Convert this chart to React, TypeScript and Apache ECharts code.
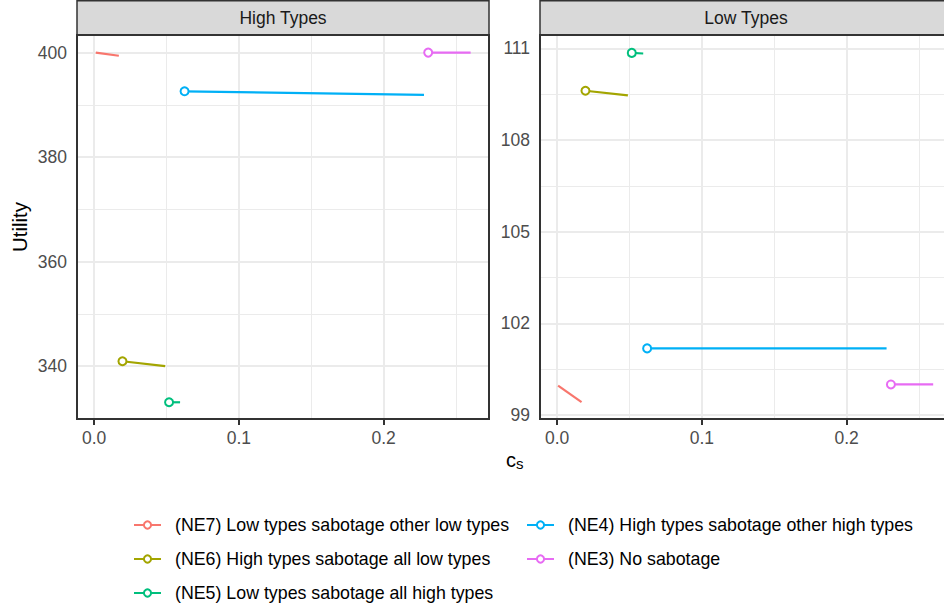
import React, { useEffect, useRef } from "react";
import * as echarts from "echarts";

const FONT = "'Liberation Sans', Arial, Helvetica, sans-serif";

const seriesNames = [
  "(NE7) Low types sabotage other low types",
  "(NE6) High types sabotage all low types",
  "(NE5) Low types sabotage all high types",
  "(NE4) High types sabotage other high types",
  "(NE3) No sabotage",
];
const seriesColors = ["#F8766D", "#A3A500", "#00BF7D", "#00B0F6", "#E76BF3"];
// whether the first point of a segment carries the open circle
const hasCircle = [false, true, true, true, true];

const panelTitles = ["High Types", "Low Types"];

// High Types panel: [c_s, utility] start -> end
const highNE7 = [[0.0012, 400.0], [0.0171, 399.4]];
const highNE6 = [[0.0196, 340.95], [0.0491, 340.0]];
const highNE5 = [[0.0518, 333.1], [0.0594, 333.1]];
const highNE4 = [[0.0625, 392.6], [0.2279, 391.9]];
const highNE3 = [[0.2308, 400.0], [0.2601, 400.0]];

// Low Types panel
const lowNE7 = [[0.0007, 99.96], [0.0169, 99.42]];
const lowNE6 = [[0.0196, 109.61], [0.0489, 109.46]];
const lowNE5 = [[0.0516, 110.85], [0.0595, 110.83]];
const lowNE4 = [[0.0622, 101.18], [0.2276, 101.18]];
const lowNE3 = [[0.2306, 100.0], [0.2598, 100.0]];

const highData = [highNE7, highNE6, highNE5, highNE4, highNE3];
const lowData = [lowNE7, lowNE6, lowNE5, lowNE4, lowNE3];

const xTicks = [0, 0.1, 0.2];
const xMinor = [0.05, 0.15, 0.25];
const highYTicks = [340, 360, 380, 400];
const highYMinor = [350, 370, 390];
const lowYTicks = [99, 102, 105, 108, 111];
const lowYMinor = [100.5, 103.5, 106.5, 109.5];

const xRange = [-0.0118, 0.2728];
const highYRange = [329.9, 403.37];
const lowYRange = [98.87, 111.435];

const PANEL_TOP = 35;
const PANEL_H = 384;
const PANEL_W = 412;
const PANEL_LEFTS = [77, 540];
const CANVAS_W = 956;

export default function App() {
  const ref = useRef<HTMLDivElement>(null);

  useEffect(() => {
    if (!ref.current) return;
    const chart = echarts.init(ref.current, undefined, { renderer: "svg" });

    const grids = PANEL_LEFTS.map((l) => ({
      left: l,
      top: PANEL_TOP,
      width: PANEL_W,
      height: PANEL_H,
      show: false,
    }));

    const mkX = (gi: number) => ({
      gridIndex: gi,
      type: "value",
      min: xRange[0],
      max: xRange[1],
      axisLine: { show: false },
      axisTick: { show: true, customValues: xTicks, length: 6, lineStyle: { color: "#333333", width: 2 } },
      axisLabel: {
        customValues: xTicks,
        formatter: (v: number) => v.toFixed(1),
        color: "#4D4D4D",
        fontSize: 17.5,
        fontFamily: FONT,
        margin: 10,
      },
      splitLine: { show: false },
    });

    const mkY = (gi: number, range: number[], ticks: number[]) => ({
      gridIndex: gi,
      type: "value",
      min: range[0],
      max: range[1],
      axisLine: { show: false },
      axisTick: { show: true, customValues: ticks, length: 6, lineStyle: { color: "#333333", width: 2 } },
      axisLabel: {
        customValues: ticks,
        formatter: (v: number) => String(Math.round(v)),
        color: "#4D4D4D",
        fontSize: 17.5,
        fontFamily: FONT,
        margin: 10,
      },
      splitLine: { show: false },
    });

    const gridSeries = (gi: number, yMajor: number[], yMinor: number[]) => ({
      type: "line",
      xAxisIndex: gi,
      yAxisIndex: gi,
      data: [],
      silent: true,
      z: 1,
      markLine: {
        z: 1,
        silent: true,
        symbol: ["none", "none"],
        label: { show: false },
        emphasis: { disabled: true },
        animation: false,
        data: [
          ...xMinor.map((v) => ({ xAxis: v, lineStyle: { color: "#EBEBEB", width: 1, type: "solid" } })),
          ...yMinor.map((v) => ({ yAxis: v, lineStyle: { color: "#EBEBEB", width: 1, type: "solid" } })),
          ...xTicks.map((v) => ({ xAxis: v, lineStyle: { color: "#EBEBEB", width: 2, type: "solid" } })),
          ...yMajor.map((v) => ({ yAxis: v, lineStyle: { color: "#EBEBEB", width: 2, type: "solid" } })),
        ],
      },
    });

    const dataSeries = (gi: number, panel: number[][][]) =>
      panel.map((pts, i) => ({
        name: seriesNames[i],
        type: "line",
        xAxisIndex: gi,
        yAxisIndex: gi,
        z: 3,
        symbol: "emptyCircle",
        symbolSize: 8,
        showSymbol: true,
        color: seriesColors[i],
        lineStyle: { width: 2.2, color: seriesColors[i] },
        itemStyle: { color: seriesColors[i], borderWidth: 1.5 },
        emphasis: { disabled: true },
        data: pts.map((p, k) => ({
          value: p,
          symbol: k === 0 && hasCircle[i] ? "emptyCircle" : "none",
        })),
      }));

    const legendBase = {
      orient: "vertical",
      top: 515,
      padding: 0,
      itemWidth: 27,
      itemHeight: 9,
      itemGap: 14,
      selectedMode: false,
      textStyle: { fontSize: 17.8, color: "#000000", fontFamily: FONT, lineHeight: 20, padding: [0, 0, 0, 9] },
    };

    const graphics: any[] = [];
    PANEL_LEFTS.forEach((l, i) => {
      graphics.push({
        type: "rect",
        shape: { x: l, y: 0.75, width: PANEL_W, height: PANEL_TOP - 0.75 },
        style: { fill: "#D9D9D9", stroke: "#333333", lineWidth: 1.5 },
        z: 10,
        silent: true,
      });
      graphics.push({
        type: "text",
        x: l + PANEL_W / 2,
        y: PANEL_TOP / 2 + 0.5,
        style: {
          text: panelTitles[i],
          fill: "#1A1A1A",
          font: `17.5px ${FONT}`,
          textAlign: "center",
          textVerticalAlign: "middle",
        },
        z: 11,
        silent: true,
      });
      graphics.push({
        type: "rect",
        shape: { x: l, y: PANEL_TOP, width: PANEL_W, height: PANEL_H },
        style: { fill: "none", stroke: "#333333", lineWidth: 2 },
        z: 10,
        silent: true,
      });
    });
    graphics.push({
      type: "text",
      x: 19,
      y: PANEL_TOP + PANEL_H / 2,
      rotation: Math.PI / 2,
      style: {
        text: "Utility",
        fill: "#000000",
        font: `20.5px ${FONT}`,
        textAlign: "center",
        textVerticalAlign: "middle",
      },
      silent: true,
    });
    graphics.push({
      type: "text",
      x: 506,
      y: 460,
      style: {
        text: "{c|c}{s|s}",
        fill: "#000000",
        textAlign: "left",
        textVerticalAlign: "middle",
        rich: {
          c: { fontSize: 20, fontFamily: FONT, lineHeight: 22, fill: "#000000" },
          s: { fontSize: 15, fontFamily: FONT, lineHeight: 15, verticalAlign: "bottom", fill: "#000000" },
        },
      },
      silent: true,
    });

    chart.setOption({
      animation: false,
      backgroundColor: "#FFFFFF",
      grid: grids,
      xAxis: [mkX(0), mkX(1)],
      yAxis: [mkY(0, highYRange, highYTicks), mkY(1, lowYRange, lowYTicks)],
      legend: [
        { ...legendBase, left: 133, data: seriesNames.slice(0, 3) },
        { ...legendBase, left: 526, data: seriesNames.slice(3) },
      ],
      graphic: graphics,
      series: [
        gridSeries(0, highYTicks, highYMinor),
        gridSeries(1, lowYTicks, lowYMinor),
        ...dataSeries(0, highData),
        ...dataSeries(1, lowData),
      ],
    });

    return () => chart.dispose();
  }, []);

  return (
    <div
      style={{ position: "fixed", left: 0, top: 0, width: 944, height: 608, overflow: "hidden", background: "#fff" }}
    >
      <div ref={ref} style={{ width: CANVAS_W, height: 608 }} />
    </div>
  );
}
